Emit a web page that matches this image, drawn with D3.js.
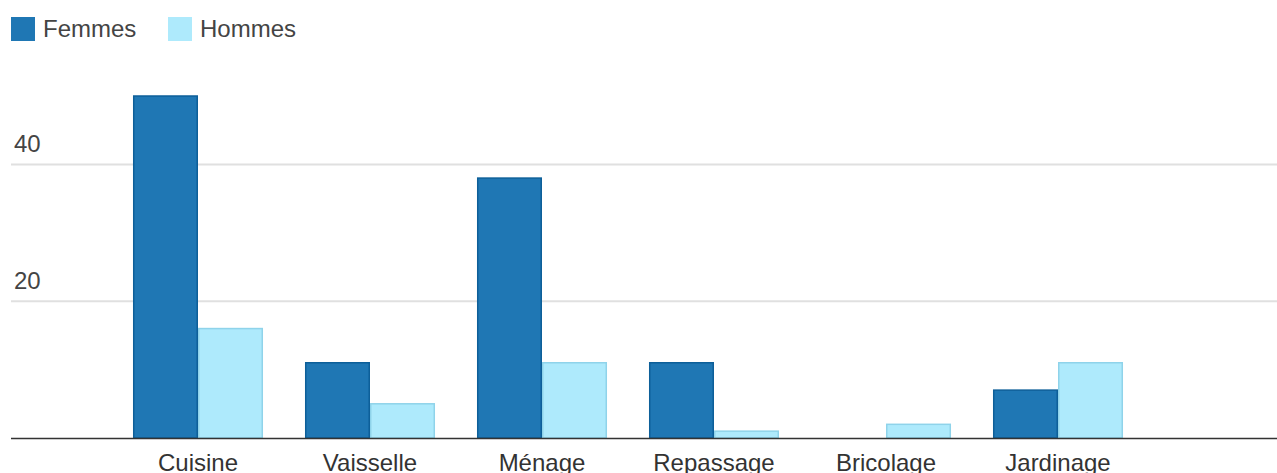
<!DOCTYPE html>
<html>
<head>
<meta charset="utf-8">
<script src="https://cdn.jsdelivr.net/npm/d3@7"></script>
<style>
    body { margin: 0; background: #fff; }
    svg { display: block; font-family: "Liberation Sans", Arial, sans-serif; }
</style>
</head>
<body>
<svg id="chart" width="1277" height="473"></svg>
<script>
// tâches ménagères, par sexe
const categories = ['Cuisine', 'Vaisselle', 'Ménage', 'Repassage', 'Bricolage', 'Jardinage'];
const seriesNames = ['Femmes', 'Hommes'];
const femmes = [50, 11, 38, 11, 0, 7];
const hommes = [16, 5, 11, 1, 2, 11];
const yTicks = [20, 40];

const fills = ['#1f77b4', '#aeeafc'];
const strokes = ['#0d5f99', '#8fd3ea'];

const svg = d3.select('#chart');
const W = 1277, left = 11, baseY = 438;

let x = d3.scaleBand()
    .domain(categories)
    .range([112, 1144])
    .paddingInner(0.244)
    .paddingOuter(0.122);

let xs = d3.scaleBand()
    .domain(seriesNames)
    .range([0, x.bandwidth()]);

let y = d3.scaleLinear()
    .domain([0, 60])
    .range([baseY, baseY - 6.84 * 60]);

// grid
svg.append('g')
    .selectAll('line')
    .data(yTicks)
    .join('line')
        .attr('x1', left)
        .attr('x2', W)
        .attr('y1', d => y(d))
        .attr('y2', d => y(d))
        .style('stroke', '#e0e0e0')
        .style('stroke-width', 2);

svg.append('g')
    .selectAll('text')
    .data(yTicks)
    .join('text')
        .attr('x', 14)
        .attr('y', d => y(d) - 12)
        .style('font-size', '24px')
        .style('fill', '#444')
        .text(d => d);

// bars
let rows = categories.map((c, i) => ({cat: c, vals: [femmes[i], hommes[i]]}));

let groups = svg.append('g')
    .selectAll('g')
    .data(rows)
    .join('g')
        .attr('transform', d => `translate(${x(d.cat)}, 0)`);

groups.selectAll('rect')
    .data(d => d.vals.map((v, j) => ({key: seriesNames[j], v: v, j: j})).filter(e => e.v > 0))
    .join('rect')
        .attr('x', d => xs(d.key) + 0.75)
        .attr('y', d => y(d.v))
        .attr('width', xs.bandwidth() - 1.5)
        .attr('height', d => baseY - y(d.v))
        .style('fill', d => fills[d.j])
        .style('stroke', d => strokes[d.j])
        .style('stroke-width', 1.5);

// baseline
svg.append('line')
    .attr('x1', left)
    .attr('x2', W)
    .attr('y1', baseY + 0.5)
    .attr('y2', baseY + 0.5)
    .style('stroke', '#333')
    .style('stroke-width', 1.5);

svg.append('g')
    .selectAll('text')
    .data(categories)
    .join('text')
        .attr('x', d => x(d) + x.bandwidth() / 2)
        .attr('y', 471)
        .attr('text-anchor', 'middle')
        .style('font-size', '24px')
        .style('fill', '#333')
        .text(d => d);

// legend
let legendX = [11, 168];
let legend = svg.append('g')
    .selectAll('g')
    .data(seriesNames)
    .join('g')
        .attr('transform', (d, i) => `translate(${legendX[i]}, 17)`);

legend.append('rect')
    .attr('width', 24)
    .attr('height', 24)
    .style('fill', (d, i) => fills[i]);

legend.append('text')
    .attr('x', 32)
    .attr('y', 20)
    .style('font-size', '24px')
    .style('fill', '#444')
    .text(d => d);
</script>
</body>
</html>
